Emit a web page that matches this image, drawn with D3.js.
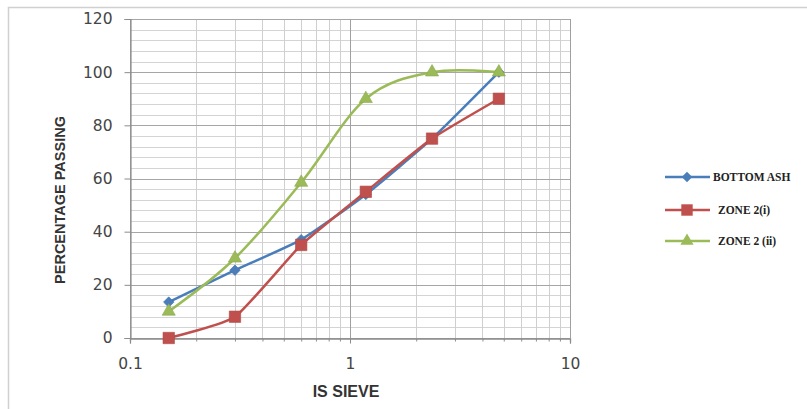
<!DOCTYPE html>
<html>
<head>
<meta charset="utf-8">
<script src="https://cdnjs.cloudflare.com/ajax/libs/d3/7.8.5/d3.min.js"></script>
<style>
  body { margin: 0; background: #fff; }
  svg { display: block; }
</style>
</head>
<body>
<script>
// sieve sizes (mm) and passing percentages
var sieve = [0.15, 0.3, 0.6, 1.18, 2.36, 4.75];
var bottomAsh = [13.5, 25.5, 37, 54, 75, 100];
var zone2i = [0, 8, 35, 55, 75, 90];
var zone2ii = [10, 30, 58.5, 90, 100, 100];
var seriesNames = ["BOTTOM ASH", "ZONE 2(i)", "ZONE 2 (ii)"];
var yTicks = [0, 20, 40, 60, 80, 100, 120];
var xTicks = [0.1, 1, 10];

var W = 807, H = 409;
// plot area edges (note: "top" is reserved on window)
var pLeft = 130, pRight = 570, pTop = 19, pBottom = 338;

var svg = d3.select("body").append("svg")
    .attr("width", W).attr("height", H);

// outer chart frame
svg.append("rect")
    .attr("x", 8.5).attr("y", 7.5)
    .attr("width", W + 10).attr("height", H + 10)
    .attr("fill", "none").attr("stroke", "#d0d0d0").attr("stroke-width", 1.5);

var x = d3.scaleLog().domain([0.1, 10]).range([pLeft, pRight]);
var y = d3.scaleLinear().domain([0, 120]).range([pBottom, pTop]);

// grid
var minorY = d3.range(0, 121, 4).filter(function(v) { return v % 20 != 0; });
svg.selectAll(".gy").data(minorY).enter().append("line")
    .attr("x1", pLeft).attr("x2", pRight)
    .attr("y1", function(d) { return Math.round(y(d)) + 0.5; })
    .attr("y2", function(d) { return Math.round(y(d)) + 0.5; })
    .attr("stroke", "#d4d4d4");

var minorX = [];
[0.1, 1].forEach(function(dec) {
    for (var k = 2; k <= 9; k++) minorX.push(dec * k);
});
svg.selectAll(".gx").data(minorX).enter().append("line")
    .attr("y1", pTop).attr("y2", pBottom)
    .attr("x1", function(d) { return Math.round(x(d)) + 0.5; })
    .attr("x2", function(d) { return Math.round(x(d)) + 0.5; })
    .attr("stroke", "#cfcfcf");

svg.selectAll(".gY").data(yTicks).enter().append("line")
    .attr("x1", pLeft).attr("x2", pRight)
    .attr("y1", function(d) { return Math.round(y(d)) + 0.5; })
    .attr("y2", function(d) { return Math.round(y(d)) + 0.5; })
    .attr("stroke", "#a6a6a6");

svg.selectAll(".gX").data(xTicks).enter().append("line")
    .attr("y1", pTop).attr("y2", pBottom)
    .attr("x1", function(d) { return Math.round(x(d)) + 0.5; })
    .attr("x2", function(d) { return Math.round(x(d)) + 0.5; })
    .attr("stroke", "#a0a0a0");

// axes
var yAxis = d3.axisLeft(y).tickValues(yTicks).tickSize(6).tickPadding(12)
    .tickFormat(d3.format("d"));
svg.append("g").attr("transform", "translate(" + (pLeft + 0.5) + ",0)").call(yAxis);

var xAxis = d3.axisBottom(x).tickValues(xTicks).tickSize(5).tickPadding(14)
    .tickFormat(function(d) { return d; });
svg.append("g").attr("transform", "translate(0," + (pBottom + 0.5) + ")").call(xAxis);

var xMinorAxis = d3.axisBottom(x).tickValues(minorX).tickSize(3).tickFormat("");
svg.append("g").attr("transform", "translate(0," + (pBottom + 0.5) + ")").call(xMinorAxis);

svg.selectAll(".domain").attr("stroke", "#8c8c8c").attr("stroke-width", 1.2);
svg.selectAll(".tick line").attr("stroke", "#8c8c8c");
svg.selectAll(".tick text")
    .attr("font-family", "DejaVu Sans, sans-serif")
    .attr("font-size", 15.5)
    .attr("fill", "#454545");

// axis titles
svg.append("text")
    .attr("transform", "translate(65,200) rotate(-90)")
    .attr("text-anchor", "middle")
    .attr("font-family", "Liberation Sans, Arial, sans-serif")
    .attr("font-weight", "bold")
    .attr("font-size", 14.5)
    .attr("fill", "#333")
    .text("PERCENTAGE PASSING");

svg.append("text")
    .attr("x", 346).attr("y", 397)
    .attr("text-anchor", "middle")
    .attr("font-family", "Liberation Sans, Arial, sans-serif")
    .attr("font-weight", "bold")
    .attr("font-size", 16)
    .attr("fill", "#333")
    .text("IS SIEVE");

// series
var series = [
    { name: seriesNames[0], values: bottomAsh, color: "#4a7ebb", shape: d3.symbolSquare, size: 55, rot: 45, tension: 0.5 },
    { name: seriesNames[1], values: zone2i, color: "#c0504d", shape: d3.symbolSquare, size: 130, rot: 0, tension: 0.5 },
    { name: seriesNames[2], values: zone2ii, color: "#9bbb59", shape: d3.symbolTriangle, size: 75, rot: 0, tension: 0 }
];

series.forEach(function(s) {
    var pts = sieve.map(function(v, i) { return [v, s.values[i]]; });
    var line = d3.line()
        .x(function(d) { return x(d[0]); })
        .y(function(d) { return y(d[1]); })
        .curve(d3.curveCardinal.tension(s.tension));
    svg.append("path")
        .datum(pts)
        .attr("d", line)
        .attr("fill", "none")
        .attr("stroke", s.color)
        .attr("stroke-width", 2.5);
    svg.selectAll(null).data(pts).enter().append("path")
        .attr("d", d3.symbol().type(s.shape).size(s.size))
        .attr("transform", function(d) {
            return "translate(" + x(d[0]) + "," + y(d[1]) + ") rotate(" + s.rot + ")";
        })
        .attr("fill", s.color)
        .attr("stroke", d3.color(s.color).darker(0.3))
        .attr("stroke-width", 0.6);
});

// legend
var legendY = [177, 210, 241];
var legendTextX = [713, 718, 718];
series.forEach(function(s, i) {
    var g = svg.append("g").attr("transform", "translate(0," + legendY[i] + ")");
    g.append("line").attr("x1", 665).attr("x2", 710)
        .attr("stroke", s.color).attr("stroke-width", 2.5);
    g.append("path")
        .attr("d", d3.symbol().type(s.shape).size(s.size))
        .attr("transform", "translate(687,0) rotate(" + s.rot + ")")
        .attr("fill", s.color);
    g.append("text")
        .attr("x", legendTextX[i]).attr("y", 4)
        .attr("font-family", "Liberation Serif, Times New Roman, serif")
        .attr("font-weight", "bold")
        .attr("font-size", 11.5)
        .attr("fill", "#222")
        .text(s.name);
});
</script>
</body>
</html>
